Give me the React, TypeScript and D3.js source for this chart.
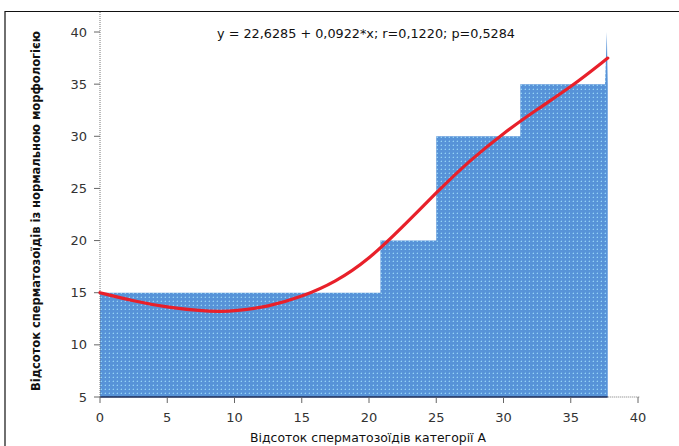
import React from "react";
import * as d3 from "d3";

const xTicks = [0, 5, 10, 15, 20, 25, 30, 35, 40];
const yTicks = [5, 10, 15, 20, 25, 30, 35, 40];

// step area (x, y)
const areaX = [0, 20.85, 20.85, 25, 25, 31.25, 31.25, 37.55, 37.68, 37.75];
const areaY = [15, 15, 20, 20, 30, 30, 35, 35, 40, 35];

// fitted curve
const curveX = [0, 2.5, 5, 7.5, 9, 10, 12.5, 15, 17.5, 20, 22.5, 25, 27.5, 30, 32.5, 35, 37.75];
const curveY = [15, 14.2, 13.6, 13.25, 13.2, 13.25, 13.65, 14.6, 16.0, 18.2, 21.3, 24.6, 27.7, 30.3, 32.6, 34.7, 37.5];

const title = "y = 22,6285 + 0,0922*x; r=0,1220; p=0,5284";
const xLabel = "Відсоток сперматозоїдів категорії А";
const yLabel = "Відсоток сперматозоїдів із нормальною морфологією";

export default function App() {
  const W = 679, H = 446;
  const x = d3.scaleLinear().domain([0, 40]).range([100, 638]);
  const y = d3.scaleLinear().domain([5, 40]).range([397, 32]);

  const areaPts = areaX.map((v, i) => [v, areaY[i]] as [number, number]);
  const area = d3.area<[number, number]>()
    .x(d => x(d[0]))
    .y0(y(5))
    .y1(d => y(d[1]));
  const line = d3.line<[number, number]>()
    .x(d => x(d[0]))
    .y(d => y(d[1]))
    .curve(d3.curveBasis);
  const curvePts = curveX.map((v, i) => [v, curveY[i]] as [number, number]);

  const font = "'DejaVu Sans', sans-serif";

  return (
    <svg width={W} height={H} style={{ position: "absolute", left: 0, top: 0, background: "#fff" }}>
      <defs>
        <pattern id="dots" width={4} height={4} patternUnits="userSpaceOnUse">
          <rect width={4} height={4} fill="#5793d8" />
          <rect x={1} y={1} width={1} height={1} fill="#95d2f4" />
          <rect x={0} y={1} width={1} height={1} fill="#6aa8e2" />
          <rect x={1} y={0} width={1} height={1} fill="#6aa8e2" />
        </pattern>
      </defs>
      <rect x={0} y={0} width={W} height={H} fill="#fff" />
      {/* frame */}
      <path d={`M5,${H} V11.5 H${W}`} fill="none" stroke="#111" strokeWidth={1.2} />

      {/* area */}
      <path d={area(areaPts) || ""} fill="url(#dots)" />
      <line x1={x(0)} x2={x(37.75)} y1={y(5)} y2={y(5)} stroke="#1a2a55" strokeWidth={1.5} />

      {/* axes */}
      <line x1={100} x2={100} y1={12} y2={397} stroke="#777" strokeWidth={1} strokeDasharray="1,1" />
      <line x1={x(37.75)} x2={640} y1={397} y2={397} stroke="#777" strokeWidth={1} strokeDasharray="1,1" />
      {yTicks.map(t => (
        <g key={"y" + t}>
          <line x1={94} x2={100} y1={y(t)} y2={y(t)} stroke="#666" strokeWidth={1} />
          <text x={87} y={y(t)} dy="0.35em" textAnchor="end" fontFamily={font} fontSize={13} fill="#333">{t}</text>
        </g>
      ))}
      {xTicks.map(t => (
        <g key={"x" + t}>
          <line x1={x(t)} x2={x(t)} y1={397} y2={403} stroke="#666" strokeWidth={1} />
          <text x={x(t)} y={417} dy="0.35em" textAnchor="middle" fontFamily={font} fontSize={13} fill="#333">{t}</text>
        </g>
      ))}

      {/* fitted curve */}
      <path d={line(curvePts) || ""} fill="none" stroke="#e8202a" strokeWidth={3.2} strokeLinecap="round" />

      {/* texts */}
      <text x={366} y={33} dy="0.35em" textAnchor="middle" fontFamily={font} fontSize={13} fill="#111"
        textLength={298} lengthAdjust="spacingAndGlyphs">{title}</text>
      <text x={368} y={437} dy="0.35em" textAnchor="middle" fontFamily={font} fontSize={13} fill="#111"
        textLength={236} lengthAdjust="spacingAndGlyphs">{xLabel}</text>
      <text transform={`translate(36,211) rotate(-90)`} dy="0.35em" textAnchor="middle" fontFamily={font}
        fontSize={11.5} fontWeight={600} fill="#111" textLength={360} lengthAdjust="spacingAndGlyphs">{yLabel}</text>
    </svg>
  );
}
